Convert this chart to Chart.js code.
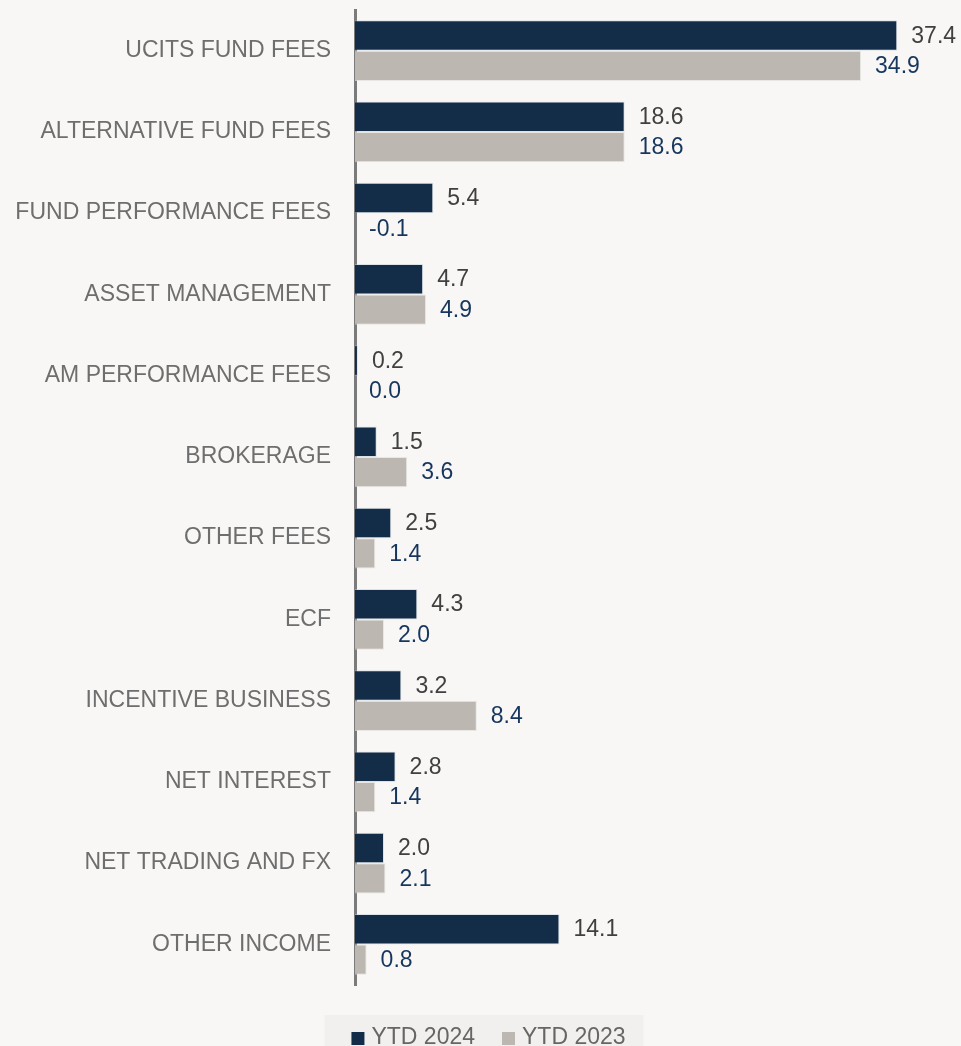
<!DOCTYPE html>
<html>
<head>
<meta charset="utf-8">
<script src="https://cdn.jsdelivr.net/npm/chart.js@4.4.1/dist/chart.umd.min.js"></script>
<style>
  html, body { margin: 0; padding: 0; background: #f8f7f5; overflow: hidden; }
  #wrap { position: relative; width: 961px; height: 1046px; }
</style>
</head>
<body>
<div id="wrap"><canvas id="revenueChart"></canvas></div>
<script>
const categories = [
    'UCITS FUND FEES', 'ALTERNATIVE FUND FEES', 'FUND PERFORMANCE FEES',
    'ASSET MANAGEMENT', 'AM PERFORMANCE FEES', 'BROKERAGE', 'OTHER FEES',
    'ECF', 'INCENTIVE BUSINESS', 'NET INTEREST', 'NET TRADING AND FX', 'OTHER INCOME'
];
const ytd2024 = [37.4, 18.6, 5.4, 4.7, 0.2, 1.5, 2.5, 4.3, 3.2, 2.8, 2.0, 14.1];
const ytd2023 = [34.9, 18.6, -0.1, 4.9, 0.0, 3.6, 1.4, 2.0, 8.4, 1.4, 2.1, 0.8];
const seriesNames = ['YTD 2024', 'YTD 2023'];

const NAVY = '#132d48';
const SAND = '#bcb8b1';
const FONT = '"Liberation Sans", Arial, sans-serif';

// value labels at the end of each bar
const valueLabels = {
    id: 'valueLabels',
    afterDatasetsDraw(chart) {
        const ctx = chart.ctx;
        const colors = ['#404040', '#17365d'];
        ctx.save();
        ctx.font = '23px ' + FONT;
        ctx.textAlign = 'left';
        ctx.textBaseline = 'middle';
        chart.data.datasets.forEach((ds, i) => {
            const meta = chart.getDatasetMeta(i);
            ctx.fillStyle = colors[i];
            meta.data.forEach((bar, j) => {
                const x = Math.max(bar.x, bar.base) + 14;
                ctx.fillText(ds.data[j].toFixed(1), x, bar.y + 1);
            });
        });
        ctx.restore();
    }
};

// legend strip under the plot, on a shaded panel
const bottomLegend = {
    id: 'bottomLegend',
    afterDraw(chart) {
        const ctx = chart.ctx;
        const area = chart.chartArea;
        ctx.save();
        ctx.font = '23px ' + FONT;
        const box = 13, gap = 7, spacing = 27;
        const items = chart.data.datasets.map(ds => ({
            text: ds.label,
            color: ds.backgroundColor,
            w: box + gap + ctx.measureText(ds.label).width
        }));
        const total = items.reduce((s, it) => s + it.w, 0) + spacing * (items.length - 1);
        let x = chart.width / 2 + 8 - total / 2;
        const top = area.bottom + 30;
        ctx.fillStyle = '#f1f0ee';
        ctx.fillRect(x - 27, top, total + 45, chart.height - top);
        const mid = top + 23;
        ctx.textBaseline = 'middle';
        ctx.textAlign = 'left';
        items.forEach(it => {
            ctx.fillStyle = it.color;
            ctx.fillRect(x, mid - 6, box, box);
            ctx.fillStyle = '#666666';
            ctx.fillText(it.text, x + box + gap, mid);
            x += it.w + spacing;
        });
        ctx.restore();
    }
};

const ctx = document.getElementById('revenueChart').getContext('2d');
const revenueChart = new Chart(ctx, {
    type: 'bar',
    data: {
        labels: categories,
        datasets: [{
            label: seriesNames[0],
            data: ytd2024,
            backgroundColor: NAVY,
            borderColor: 'rgba(190, 205, 220, 0.5)',
            borderWidth: 1
        }, {
            label: seriesNames[1],
            data: ytd2023,
            backgroundColor: SAND,
            borderColor: 'rgba(225, 223, 219, 0.7)',
            borderWidth: 1
        }]
    },
    options: {
        indexAxis: 'y',
        responsive: true,
        maintainAspectRatio: false,
        animation: false,
        datasets: {
            bar: { categoryPercentage: 0.75, barPercentage: 1 }
        },
        layout: {
            padding: { top: 10, right: 26, bottom: 0, left: 0 }
        },
        plugins: {
            legend: { display: false },
            tooltip: { enabled: false }
        },
        scales: {
            x: {
                min: 0,
                max: 40,
                grid: { display: false },
                border: { display: false },
                ticks: { display: false },
                // room for the legend strip
                afterFit: function(scale) { scale.height = 61; }
            },
            y: {
                z: 1,
                grid: { display: false, drawTicks: true, tickLength: 24 },
                border: { display: true, color: '#7b7b7b', width: 3 },
                ticks: {
                    font: { family: FONT, size: 23, lineHeight: 0.8 },
                    color: '#6e6e6e',
                    padding: 0
                },
                afterFit: function(scale) { scale.width = 355; }
            }
        }
    },
    plugins: [valueLabels, bottomLegend]
});
</script>
</body>
</html>
